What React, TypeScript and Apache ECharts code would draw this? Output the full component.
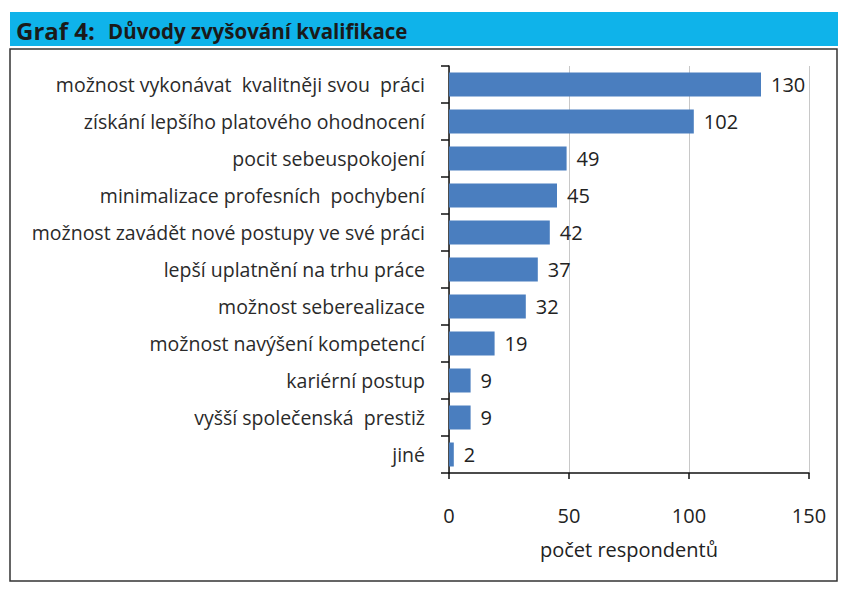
import React, { useEffect, useRef } from "react";
import * as echarts from "echarts";

const categories = [
  "možnost vykonávat  kvalitněji svou  práci",
  "získání lepšího platového ohodnocení",
  "pocit sebeuspokojení",
  "minimalizace profesních  pochybení",
  "možnost zavádět nové postupy ve své práci",
  "lepší uplatnění na trhu práce",
  "možnost seberealizace",
  "možnost navýšení kompetencí",
  "kariérní postup",
  "vyšší společenská  prestiž",
  "jiné",
];
const values = [130, 102, 49, 45, 42, 37, 32, 19, 9, 9, 2];
const xTicks = { min: 0, max: 150, interval: 50 };
const titleNumber = "Graf 4:";
const titleText = "Důvody zvyšování kvalifikace";
const xAxisName = "počet respondentů";

const FONT = "'Open Sans', 'Noto Sans', sans-serif";

export default function App() {
  const ref = useRef<HTMLDivElement>(null);
  useEffect(() => {
    if (!ref.current) return;
    const chart = echarts.init(ref.current, undefined, { renderer: "svg" });
    chart.setOption({
      animation: false,
      backgroundColor: "#ffffff",
      textStyle: { fontFamily: FONT },
      graphic: [
        {
          type: "rect",
          shape: { x: 10, y: 12, width: 828, height: 34 },
          style: { fill: "#0fb3ea" },
          silent: true,
        },
        {
          type: "text",
          x: 16,
          y: 30,
          style: {
            text: titleNumber,
            fontSize: 24,
            fontWeight: "bold",
            fontFamily: FONT,
            fill: "#1a1a1a",
            verticalAlign: "middle",
          },
        },
        {
          type: "text",
          x: 108,
          y: 31,
          style: {
            text: titleText,
            fontSize: 20.5,
            fontWeight: "bold",
            fontFamily: FONT,
            fill: "#1a1a1a",
            verticalAlign: "middle",
          },
        },
        {
          type: "rect",
          shape: { x: 10, y: 49, width: 827, height: 532 },
          style: { fill: "none", stroke: "#333333", lineWidth: 1.5 },
          silent: true,
        },
      ],
      grid: { left: 449, right: 41, top: 66, bottom: 126, containLabel: false },
      xAxis: {
        type: "value",
        min: xTicks.min,
        max: xTicks.max,
        interval: xTicks.interval,
        name: xAxisName,
        nameLocation: "middle",
        nameGap: 66,
        nameTextStyle: { fontSize: 20, color: "#222", fontFamily: FONT },
        axisLine: { show: true, lineStyle: { color: "#111", width: 1.5 } },
        axisTick: { show: true, length: 6, lineStyle: { color: "#111", width: 1.5 } },
        axisLabel: { fontSize: 20, color: "#222", margin: 32, fontFamily: FONT },
        splitLine: { show: true, lineStyle: { color: "#c8c8c8", width: 1 } },
      },
      yAxis: {
        type: "category",
        inverse: true,
        data: categories,
        axisLine: { show: true, lineStyle: { color: "#111", width: 1.5 } },
        axisTick: { show: true, length: 8, lineStyle: { color: "#111", width: 1.5 } },
        axisLabel: { fontSize: 19.5, color: "#2a2a2a", margin: 24, fontFamily: FONT },
        splitLine: { show: false },
      },
      series: [
        {
          type: "bar",
          data: values,
          barWidth: 24,
          itemStyle: { color: "#4a7ebf" },
          label: {
            show: true,
            position: "right",
            distance: 10,
            fontSize: 20,
            color: "#222",
            fontFamily: FONT,
          },
        },
      ],
    });
    return () => chart.dispose();
  }, []);
  return (
    <div
      ref={ref}
      style={{ position: "absolute", left: 0, top: 0, width: 850, height: 599 }}
    />
  );
}
